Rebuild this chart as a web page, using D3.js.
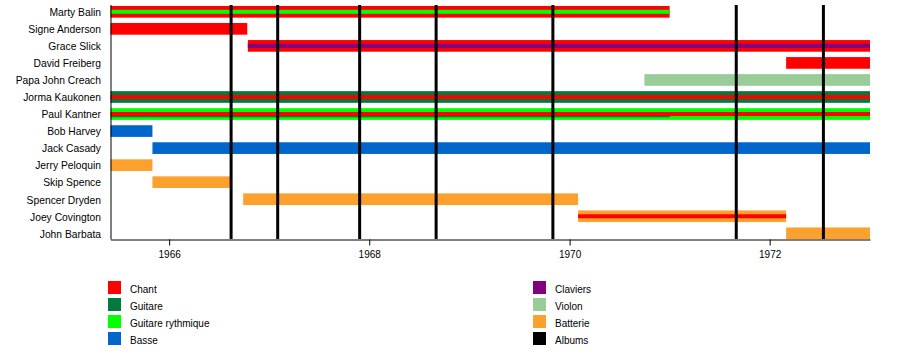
<!DOCTYPE html>
<html><head><meta charset="utf-8">
<script src="https://cdn.jsdelivr.net/npm/d3@7"></script>
<style>body{margin:0;background:#fff}svg{display:block;font-family:"Liberation Sans",Arial,sans-serif}</style>
</head><body>
<script>
const members = ["Marty Balin","Signe Anderson","Grace Slick","David Freiberg","Papa John Creach","Jorma Kaukonen","Paul Kantner","Bob Harvey","Jack Casady","Jerry Peloquin","Skip Spence","Spencer Dryden","Joey Covington","John Barbata"];
const roles = ["Chant","Guitare","Guitare rythmique","Basse","Claviers","Violon","Batterie","Albums"];
const roleColors = ["#ff0000","#007a3d","#00ff00","#0066cc","#800080","#99cc99","#fca12e","#000000"];
// [member, role, start, end, layer]  layer: "full" | "inner" | "edge"
const periods = [
  ["Marty Balin","Chant","1965-06-01","1971-01-01","full"],
  ["Marty Balin","Guitare rythmique","1965-06-01","1971-01-01","inner"],
  ["Signe Anderson","Chant","1965-06-01","1966-10-13","full"],
  ["Grace Slick","Chant","1966-10-15","1973-01-01","full"],
  ["Grace Slick","Claviers","1966-10-15","1973-01-01","inner"],
  ["David Freiberg","Chant","1972-03-01","1973-01-01","full"],
  ["Papa John Creach","Violon","1970-10-01","1973-01-01","full"],
  ["Jorma Kaukonen","Guitare","1965-06-01","1973-01-01","full"],
  ["Jorma Kaukonen","Chant","1965-06-01","1973-01-01","inner"],
  ["Paul Kantner","Guitare rythmique","1965-06-01","1973-01-01","full"],
  ["Paul Kantner","Chant","1965-06-01","1973-01-01","inner"],
  ["Paul Kantner","Guitare","1965-06-01","1971-01-01","edge"],
  ["Bob Harvey","Basse","1965-06-01","1965-11-01","full"],
  ["Jack Casady","Basse","1965-11-01","1973-01-01","full"],
  ["Jerry Peloquin","Batterie","1965-06-01","1965-11-01","full"],
  ["Skip Spence","Batterie","1965-11-01","1966-08-15","full"],
  ["Spencer Dryden","Batterie","1966-09-28","1970-02-01","full"],
  ["Joey Covington","Batterie","1970-02-01","1972-03-01","full"],
  ["Joey Covington","Chant","1970-02-01","1972-03-01","inner"],
  ["John Barbata","Batterie","1972-03-01","1973-01-01","full"]
];
const albums = ["1966-08-15","1967-02-01","1967-11-27","1968-09-01","1969-11-01","1971-09-01","1972-07-15"];
const tickYears = [1966,1968,1970,1972];
const legendCol1 = ["Chant","Guitare","Guitare rythmique","Basse"];
const legendCol2 = ["Claviers","Violon","Batterie","Albums"];

const W = 900, H = 359;
const parse = d3.timeParse("%Y-%m-%d");
const svg = d3.select("body").append("svg").attr("width", W).attr("height", H);

const x = d3.scaleTime().domain([parse("1965-06-01"), parse("1973-01-01")]).range([110.5, 870]);
const y = d3.scaleBand().domain(members).range([3.3, 241.8]).paddingInner(0.315).paddingOuter(0.157);
const color = d3.scaleOrdinal().domain(roles).range(roleColors);
const bh = y.bandwidth();

// bars
const g = svg.append("g");
periods.forEach(([m, r, s, e, layer]) => {
  const x0 = x(parse(s)), x1 = x(parse(e));
  let yy = y(m), hh = bh;
  if (layer === "inner") { yy = y(m) + bh/2 - 2; hh = 4; }
  if (layer === "edge") { yy = y(m) + bh/2 + 2; hh = 1.2; }
  g.append("rect").attr("x", x0).attr("y", yy).attr("width", x1 - x0).attr("height", hh).attr("fill", color(r));
});

// album lines
svg.append("g").selectAll("line").data(albums).join("line")
  .attr("x1", d => x(parse(d))).attr("x2", d => x(parse(d)))
  .attr("y1", 5).attr("y2", 239)
  .attr("stroke", color("Albums")).attr("stroke-width", 3);

// axes
const ax = d3.axisBottom(x).tickValues(tickYears.map(v => new Date(v, 0, 1))).tickFormat(d3.timeFormat("%Y")).tickSize(6).tickSizeOuter(0);
const axg = svg.append("g").attr("transform", "translate(0,239.5)").call(ax);
axg.select(".domain").attr("stroke", "#000");
axg.selectAll(".tick line").attr("stroke", "#000");
axg.selectAll(".tick text").attr("font-size", 10).attr("fill", "#000").attr("dy", null).attr("y", 18);

svg.append("line").attr("x1", 111).attr("x2", 111).attr("y1", 5).attr("y2", 239.5).attr("stroke", "#000");

// member labels
svg.append("g").selectAll("text").data(members).join("text")
  .attr("x", 101).attr("y", d => y(d) + bh/2 + 4.3)
  .attr("text-anchor", "end").attr("font-size", 10.3).attr("fill", "#000").text(d => d);

// legend
function legend(items, sx, tx) {
  const lg = svg.append("g");
  items.forEach((it, i) => {
    lg.append("rect").attr("x", sx).attr("y", 281 + i*17).attr("width", 13).attr("height", 13).attr("fill", color(it));
    lg.append("text").attr("x", tx).attr("y", 293 + i*17).attr("font-size", 10).attr("fill", "#000").text(it);
  });
}
legend(legendCol1, 108, 130);
legend(legendCol2, 533, 555);
</script>
</body></html>
